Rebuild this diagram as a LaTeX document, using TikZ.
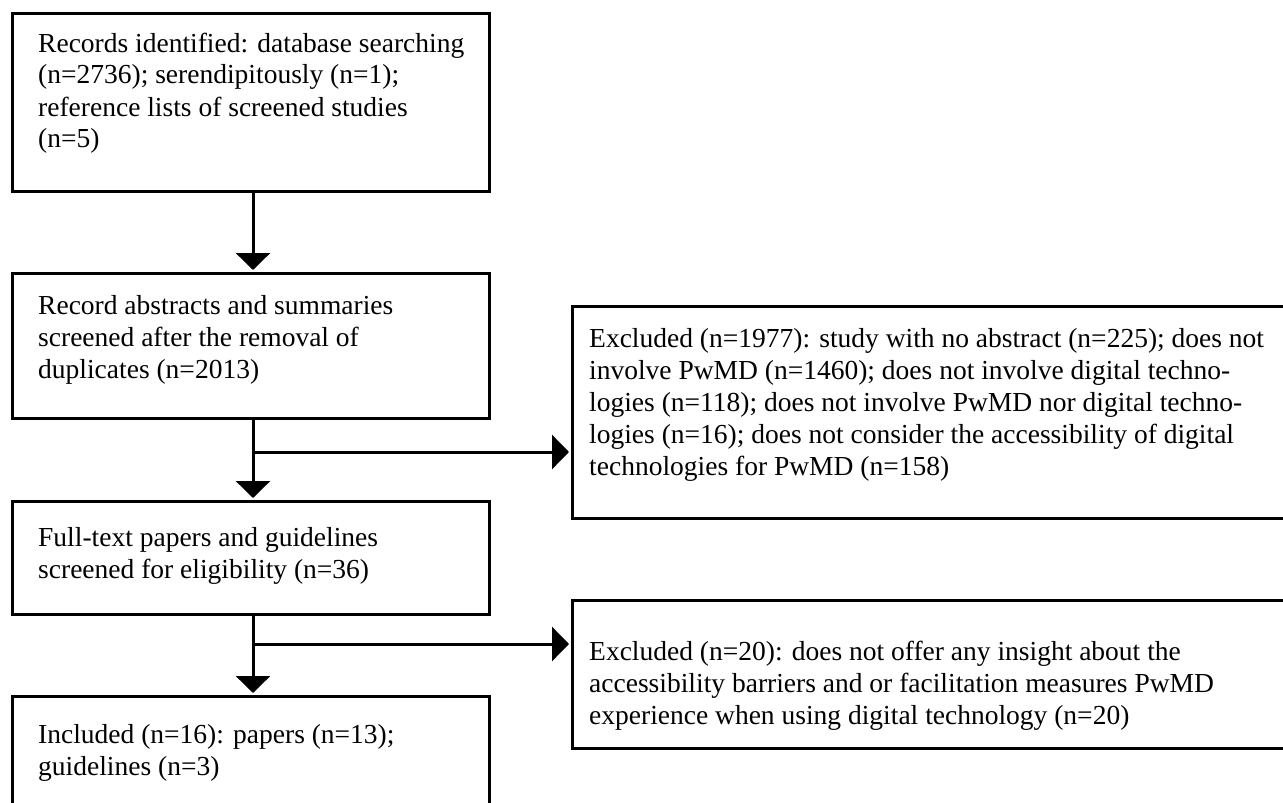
\documentclass[tikz,border=0pt]{standalone}
\usepackage{fontspec}
\setmainfont{Liberation Serif}
\usetikzlibrary{arrows.meta}
\newcommand{\boxlines}[1]{\begin{tabular}[t]{@{}l@{}}#1\end{tabular}}
\begin{document}
\begin{tikzpicture}[x=1pt,y=-1pt,
  box/.style={draw, line width=3pt, inner sep=0pt, outer sep=0pt, anchor=north west},
  txt/.style={anchor=base west, inner sep=0pt, font=\fontsize{27.5}{32}\selectfont},
  arr/.style={line width=3pt, -{Triangle[width=34pt,length=17pt]}, shorten >=3pt}]
\useasboundingbox (0,0) rectangle (1283,803);
\clip (0,0) rectangle (1283,803);
\fill[white] (0,0) rectangle (1283,803);
% boxes
\node[box, minimum width=477pt, minimum height=178pt] (b1) at (12,13) {};
\node[box, minimum width=477pt, minimum height=145pt] (b2) at (12,273) {};
\node[box, minimum width=477pt, minimum height=113pt] (b3) at (12,501) {};
\node[box, minimum width=477pt, minimum height=140pt] (b4) at (12,696) {};
\node[box, minimum width=740pt, minimum height=212pt] (e1) at (572,306) {};
\node[box, minimum width=740pt, minimum height=148pt] (e2) at (572,600) {};
% texts
\node[txt] (t1) at (38,52) {\boxlines{Records identified: database searching\\(n=2736); serendipitously (n=1);\\reference lists of screened studies\\(n=5)}};
\node[txt] (t2) at (38,314) {\boxlines{Record abstracts and summaries\\screened after the removal of\\duplicates (n=2013)}};
\node[txt] (t3) at (38,546) {\boxlines{Full-text papers and guidelines\\screened for eligibility (n=36)}};
\node[txt] (t4) at (38,743) {\boxlines{Included (n=16): papers (n=13);\\guidelines (n=3)}};
\node[txt] (t5) at (589,347) {\boxlines{Excluded (n=1977): study with no abstract (n=225); does not\\involve PwMD (n=1460); does not involve digital techno-\\logies (n=118); does not involve PwMD nor digital techno-\\logies (n=16); does not consider the accessibility of digital\\technologies for PwMD (n=158)}};
\node[txt] (t6) at (589,660) {\boxlines{Excluded (n=20): does not offer any insight about the\\accessibility barriers and or facilitation measures PwMD\\experience when using digital technology (n=20)}};
% connectors
\coordinate (ax) at (253,0);
\coordinate (j1) at (253,452);
\coordinate (j2) at (253,644);
\draw[arr] (b1.south -| ax) -- (b2.north -| ax);
\draw[arr] (b2.south -| ax) -- (b3.north -| ax);
\draw[arr] (j1) -- (j1 -| e1.west);
\draw[arr] (b3.south -| ax) -- (b4.north -| ax);
\draw[arr] (j2) -- (j2 -| e2.west);
\end{tikzpicture}
\end{document}
